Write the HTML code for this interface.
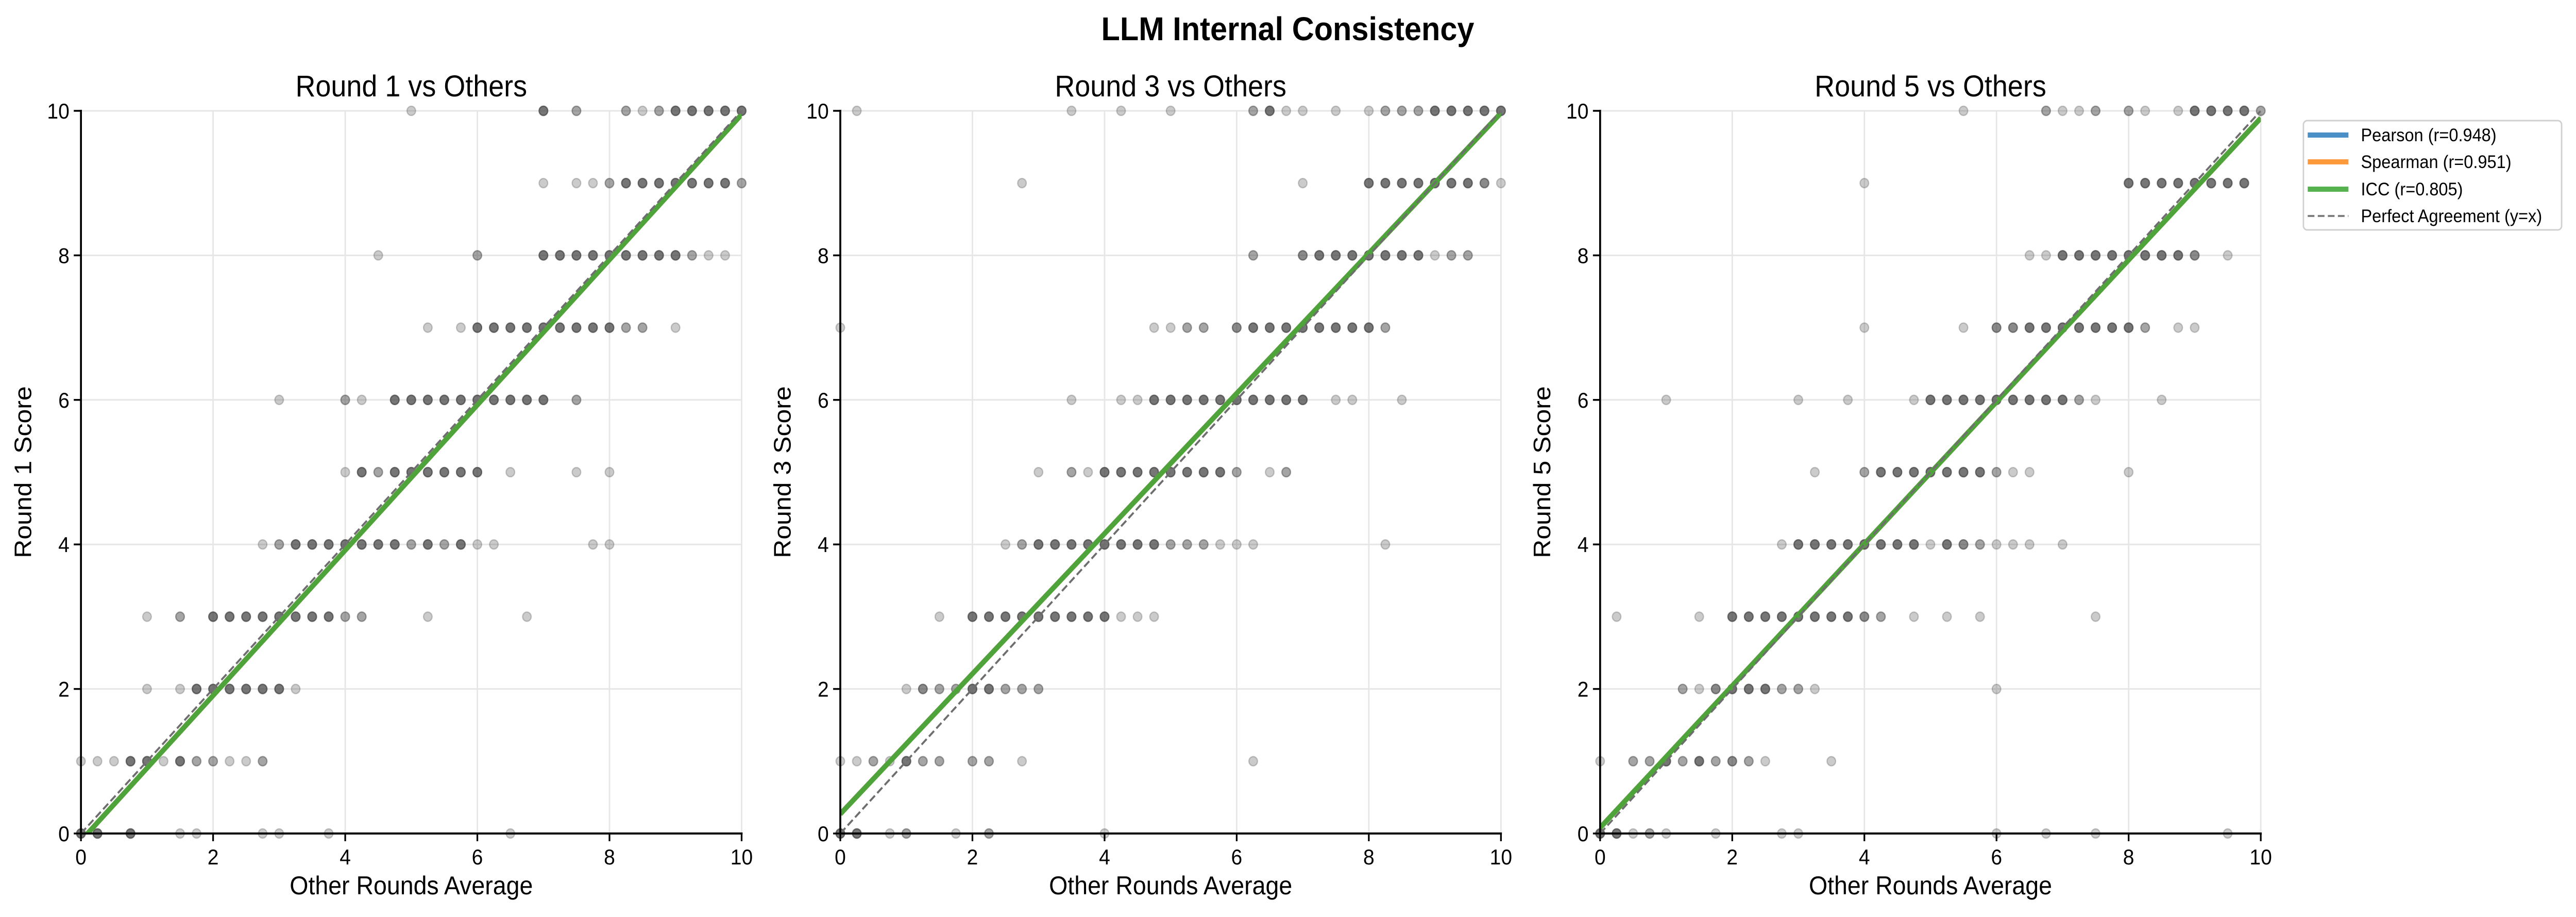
<!DOCTYPE html>
<html><head><meta charset="utf-8"><style>
html,body{margin:0;padding:0;background:#fff;overflow:hidden;width:100%;height:100%;}
svg{display:block;font-family:"Liberation Sans",sans-serif;width:100vw;height:100vh;}
</style></head><body>
<svg id="chart" viewBox="0 0 5377 1779" preserveAspectRatio="none" xmlns="http://www.w3.org/2000/svg">
<text x="2688" y="78" text-anchor="middle" font-size="64" font-weight="bold">LLM Internal Consistency</text>
<g id="panels"></g>
<g>
<rect x="4808" y="234" width="539" height="212" rx="8" fill="#fff" stroke="#d0d0d0" stroke-width="3"/>
<g id="legend-items"></g>
</g>
</svg>
<script>
const panelTitles = ["Round 1 vs Others","Round 3 vs Others","Round 5 vs Others"];
const yLabels = ["Round 1 Score","Round 3 Score","Round 5 Score"];
const ticks = [0,2,4,6,8,10];
const fitIntercepts = [-0.1, 0.27, 0.08];
const fitSlopes = [1.005, 0.97, 0.982];
const legendLabels = ["Pearson (r=0.948)","Spearman (r=0.951)","ICC (r=0.805)","Perfect Agreement (y=x)"];
const legendColors = ["#4a8fc6","#ff9a3c","#55b24f","#808080"];
// [x, y, overlap count]
const plot1Points = [
[5,10,1],[7,10,4],[7.5,10,2],[8.25,10,2],[8.5,10,1],[8.75,10,2],[9,10,4],[9.25,10,4],[9.5,10,4],[9.75,10,4],[10,10,4],
[7,9,1],[7.5,9,1],[7.75,9,1],[8,9,2],[8.25,9,4],[8.5,9,4],[8.75,9,4],[9,9,4],[9.25,9,4],[9.5,9,4],[9.75,9,4],[10,9,2],
[4.5,8,1],[6,8,2],[7,8,4],[7.25,8,4],[7.5,8,4],[7.75,8,4],[8,8,4],[8.25,8,4],[8.5,8,4],[8.75,8,4],[9,8,4],[9.25,8,2],[9.5,8,1],[9.75,8,1],
[5.25,7,1],[5.75,7,1],[6,7,4],[6.25,7,4],[6.5,7,4],[6.75,7,4],[7,7,4],[7.25,7,4],[7.5,7,4],[7.75,7,4],[8,7,4],[8.25,7,2],[8.5,7,2],[9,7,1],
[3,6,1],[4,6,2],[4.25,6,1],[4.75,6,4],[5,6,4],[5.25,6,4],[5.5,6,4],[5.75,6,4],[6,6,4],[6.25,6,4],[6.5,6,4],[6.75,6,4],[7,6,4],[7.5,6,2],
[4,5,1],[4.25,5,4],[4.5,5,2],[4.75,5,4],[5,5,4],[5.25,5,4],[5.5,5,4],[5.75,5,4],[6,5,4],[6.5,5,1],[7.5,5,1],[8,5,1],
[2.75,4,1],[3,4,2],[3.25,4,4],[3.5,4,4],[3.75,4,4],[4,4,4],[4.25,4,4],[4.5,4,4],[4.75,4,4],[5,4,2],[5.25,4,4],[5.5,4,2],[5.75,4,4],[6,4,1],[6.25,4,1],[7.75,4,1],[8,4,1],
[1,3,1],[1.5,3,2],[2,3,4],[2.25,3,4],[2.5,3,4],[2.75,3,4],[3,3,4],[3.25,3,4],[3.5,3,4],[3.75,3,4],[4,3,2],[4.25,3,2],[5.25,3,1],[6.75,3,1],
[1,2,1],[1.5,2,1],[1.75,2,4],[2,2,4],[2.25,2,4],[2.5,2,4],[2.75,2,4],[3,2,4],[3.25,2,1],
[0,1,1],[0.25,1,1],[0.5,1,1],[0.75,1,4],[1,1,4],[1.25,1,1],[1.5,1,4],[1.75,1,2],[2,1,2],[2.25,1,1],[2.5,1,1],[2.75,1,2],
[0,0,4],[0.25,0,4],[0.75,0,4],[1.5,0,1],[1.75,0,1],[2.75,0,1],[3,0,1],[3.75,0,1],[6.5,0,1]
];
const plot2Points = [
[0.25,10,1],[3.5,10,1],[4.25,10,1],[5,10,1],[6.25,10,2],[6.5,10,4],[6.75,10,1],[7,10,1],[7.5,10,1],[8,10,1],[8.25,10,2],[8.5,10,2],[8.75,10,2],[9,10,4],[9.25,10,4],[9.5,10,4],[9.75,10,4],[10,10,4],
[2.75,9,1],[7,9,1],[8,9,4],[8.25,9,4],[8.5,9,4],[8.75,9,4],[9,9,4],[9.25,9,4],[9.5,9,4],[9.75,9,3],[10,9,1],
[6.25,8,2],[7,8,3],[7.25,8,4],[7.5,8,4],[7.75,8,4],[8,8,4],[8.25,8,4],[8.5,8,4],[8.75,8,4],[9,8,1],[9.25,8,2],[9.5,8,2],
[0,7,1],[4.75,7,1],[5,7,1],[5.25,7,2],[5.5,7,2],[6,7,3],[6.25,7,4],[6.5,7,4],[6.75,7,4],[7,7,4],[7.25,7,4],[7.5,7,4],[7.75,7,4],[8,7,4],[8.25,7,2],
[3.5,6,1],[4.25,6,1],[4.5,6,1],[4.75,6,4],[5,6,4],[5.25,6,4],[5.5,6,4],[5.75,6,4],[6,6,4],[6.25,6,4],[6.5,6,4],[6.75,6,4],[7,6,4],[7.5,6,1],[7.75,6,1],[8.5,6,1],
[3,5,1],[3.5,5,2],[3.75,5,1],[4,5,4],[4.25,5,4],[4.5,5,4],[4.75,5,4],[5,5,4],[5.25,5,4],[5.5,5,4],[5.75,5,4],[6,5,2],[6.5,5,1],[6.75,5,2],
[2.5,4,1],[2.75,4,2],[3,4,4],[3.25,4,4],[3.5,4,4],[3.75,4,4],[4,4,4],[4.25,4,4],[4.5,4,4],[4.75,4,4],[5,4,2],[5.25,4,2],[5.5,4,2],[5.75,4,1],[6,4,1],[6.25,4,1],[8.25,4,1],
[1.5,3,1],[2,3,4],[2.25,3,4],[2.5,3,4],[2.75,3,4],[3,3,4],[3.25,3,4],[3.5,3,4],[3.75,3,4],[4,3,4],[4.25,3,1],[4.5,3,1],[4.75,3,1],
[1,2,1],[1.25,2,3],[1.5,2,2],[1.75,2,2],[2,2,4],[2.25,2,4],[2.5,2,2],[2.75,2,2],[3,2,2],
[0,1,1],[0.25,1,1],[0.5,1,2],[0.75,1,1],[1,1,4],[1.25,1,2],[1.5,1,2],[2,1,2],[2.25,1,2],[2.75,1,1],[6.25,1,1],
[0,0,4],[0.25,0,4],[0.75,0,1],[1,0,2],[1.75,0,1],[2.25,0,2],[4,0,1]
];
const plot3Points = [
[5.5,10,1],[6.75,10,2],[7,10,1],[7.25,10,1],[7.5,10,2],[8,10,2],[8.25,10,1],[8.75,10,1],[9,10,4],[9.25,10,4],[9.5,10,4],[9.75,10,4],[10,10,2],
[4,9,1],[8,9,4],[8.25,9,4],[8.5,9,4],[8.75,9,4],[9,9,4],[9.25,9,4],[9.5,9,4],[9.75,9,4],
[6.5,8,1],[6.75,8,1],[7,8,4],[7.25,8,4],[7.5,8,4],[7.75,8,4],[8,8,4],[8.25,8,4],[8.5,8,4],[8.75,8,4],[9,8,3],[9.5,8,1],
[4,7,1],[5.5,7,1],[6,7,3],[6.25,7,3],[6.5,7,4],[6.75,7,4],[7,7,4],[7.25,7,4],[7.5,7,4],[7.75,7,4],[8,7,4],[8.25,7,2],[8.75,7,1],[9,7,1],
[1,6,1],[3,6,1],[3.75,6,1],[4.75,6,1],[5,6,4],[5.25,6,4],[5.5,6,4],[5.75,6,4],[6,6,4],[6.25,6,4],[6.5,6,4],[6.75,6,4],[7,6,4],[7.25,6,2],[7.5,6,1],[8.5,6,1],
[3.25,5,1],[4,5,2],[4.25,5,4],[4.5,5,4],[4.75,5,4],[5,5,4],[5.25,5,4],[5.5,5,4],[5.75,5,4],[6,5,2],[6.25,5,1],[6.5,5,1],[8,5,1],
[2.75,4,1],[3,4,4],[3.25,4,4],[3.5,4,4],[3.75,4,4],[4,4,4],[4.25,4,4],[4.5,4,4],[4.75,4,4],[5,4,1],[5.25,4,4],[5.5,4,3],[5.75,4,2],[6,4,1],[6.25,4,1],[6.5,4,1],[7,4,1],
[0.25,3,1],[1.5,3,1],[2,3,4],[2.25,3,4],[2.5,3,4],[2.75,3,4],[3,3,4],[3.25,3,4],[3.5,3,4],[3.75,3,4],[4,3,3],[4.25,3,2],[4.75,3,1],[5.25,3,1],[5.75,3,1],[7.5,3,1],
[1.25,2,2],[1.5,2,1],[1.75,2,3],[2,2,4],[2.25,2,4],[2.5,2,4],[2.75,2,2],[3,2,2],[3.25,2,1],[6,2,1],
[0,1,1],[0.5,1,2],[0.75,1,2],[1,1,4],[1.25,1,2],[1.5,1,4],[1.75,1,2],[2,1,3],[2.25,1,2],[2.5,1,1],[3.5,1,1],
[0,0,4],[0.25,0,4],[0.5,0,1],[0.75,0,2],[1,0,1],[1.75,0,1],[2.75,0,1],[3,0,1],[6,0,1],[6.75,0,1],[7.5,0,1],[9.5,0,1]
];
const allPoints = [plot1Points, plot2Points, plot3Points];

const NS = "http://www.w3.org/2000/svg";
const panelLefts = [169, 1754, 3340];
const panelWidth = 1379, axTop = 215, axBottom = 1617;
function mk(tag, attrs, parent){const e=document.createElementNS(NS,tag);for(const k in attrs)e.setAttribute(k,attrs[k]);parent.appendChild(e);return e;}
const panelsG = document.getElementById("panels");
for (let p=0;p<3;p++){
  const L = panelLefts[p], R = L+panelWidth;
  const sx = v => L + v/10*panelWidth;
  const sy = v => axBottom - v/10*(axBottom-axTop);
  const g = mk("g",{},panelsG);
  
  
  const clipId = "clip"+p;
  const cp = mk("clipPath",{id:clipId},g);
  mk("rect",{x:L,y:axTop,width:panelWidth,height:axBottom-axTop},cp);
  ticks.forEach(t=>{
    const gx = mk("line",{x1:sx(t),x2:sx(t),y1:axTop,y2:axBottom,stroke:"#e6e6e6","stroke-width":3},g);
    
    
    const gy = mk("line",{x1:L,x2:R,y1:sy(t),y2:sy(t),stroke:"#e6e6e6","stroke-width":3},g);
    
    
  });
  const pg = mk("g",{},g);
  
  
  allPoints[p].forEach(pt=>{
    for(let k=0;k<pt[2];k++){
      const c = mk("circle",{cx:sx(pt[0]),cy:sy(pt[1]),r:9,fill:"#444","fill-opacity":0.28,stroke:"#444","stroke-opacity":0.28,"stroke-width":2.5},pg);
      
      
    }
  });
  const lg = mk("g",{"clip-path":"url(#"+clipId+")"},g);
  const f0 = fitIntercepts[p], f10 = fitIntercepts[p]+fitSlopes[p]*10;
  const lineColors = ["#3a7fbf","#ff8c2a","#4ea33a"];
  const lineNames = ["pearson-fit-line","spearman-fit-line","icc-fit-line"];
  for(let i=0;i<3;i++){
    const ln = mk("line",{x1:sx(0),y1:sy(f0),x2:sx(10),y2:sy(f10),stroke:lineColors[i],"stroke-width":10},lg);
    
    
  }
  const d = mk("line",{x1:sx(0),y1:sy(0),x2:sx(10),y2:sy(10),stroke:"#6e6e6e","stroke-width":4,"stroke-dasharray":"15 7"},lg);
  
  
  const sl = mk("line",{x1:L,x2:L,y1:axTop-2,y2:axBottom+2,stroke:"#000","stroke-width":4},g);
  
  
  const sb = mk("line",{x1:L-2,x2:R+2,y1:axBottom,y2:axBottom,stroke:"#000","stroke-width":4},g);
  
  
  ticks.forEach(t=>{
    mk("line",{x1:sx(t),x2:sx(t),y1:axBottom,y2:axBottom+15,stroke:"#000","stroke-width":3.5},g);
    mk("line",{x1:L-15,x2:L,y1:sy(t),y2:sy(t),stroke:"#000","stroke-width":3.5},g);
    const tx = mk("text",{x:sx(t),y:axBottom+60,"text-anchor":"middle","font-size":42},g);
    tx.textContent = t;
    
    
    const ty = mk("text",{x:L-24,y:sy(t)+15,"text-anchor":"end","font-size":42},g);
    ty.textContent = t;
    
    
  });
  const tt = mk("text",{x:L+panelWidth/2,y:187,"text-anchor":"middle","font-size":58},g);
  tt.textContent = panelTitles[p];
  
  
  const xl = mk("text",{x:L+panelWidth/2,y:1735,"text-anchor":"middle","font-size":50},g);
  xl.textContent = "Other Rounds Average";
  
  
  const yl = mk("text",{x:0,y:0,"text-anchor":"middle","font-size":50,transform:"translate("+(L-104)+","+((axTop+axBottom)/2)+") rotate(-90)"},g);
  yl.textContent = yLabels[p];
  
  
}
const li = document.getElementById("legend-items");
const rowsY = [262,314,367,419];
legendLabels.forEach((lab,i)=>{
  const ln = mk("line",{x1:4817,x2:4902,y1:rowsY[i],y2:rowsY[i],stroke:legendColors[i],"stroke-width":i<3?10:4},li);
  if(i===3) ln.setAttribute("stroke-dasharray","14 7");
  
  
  const tx = mk("text",{x:4928,y:rowsY[i]+12,"font-size":35},li);
  tx.textContent = lab;
  
  
});
</script>
</body></html>
